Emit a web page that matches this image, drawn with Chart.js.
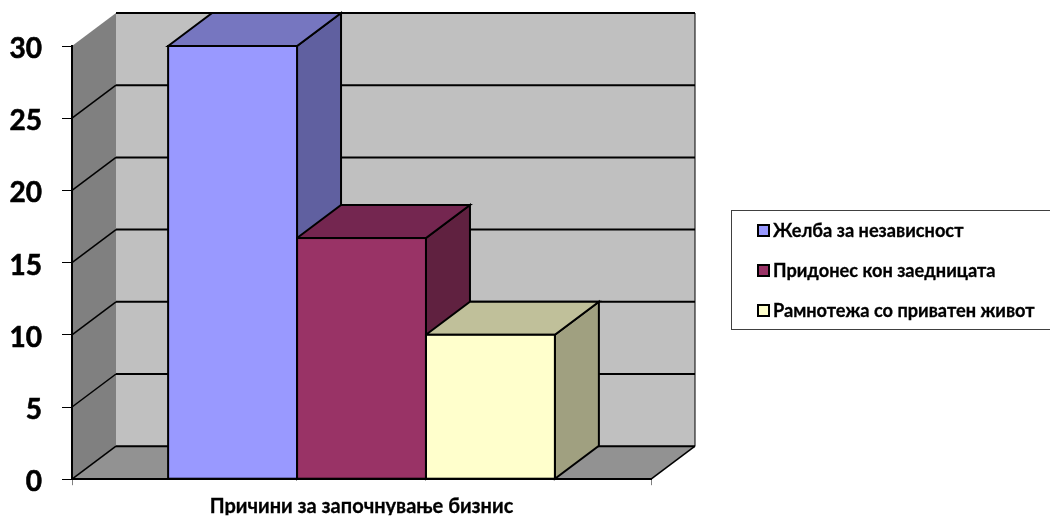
<!DOCTYPE html>
<html>
<head>
<meta charset="utf-8">
<script src="https://cdn.jsdelivr.net/npm/chart.js@4/dist/chart.umd.min.js"></script>
<style>
    body { margin: 0; background: #fff; }
    #wrap { position: relative; width: 1050px; height: 516px; overflow: hidden; }
    #leyenda {
        position: absolute; left: 731px; top: 210px; width: 320px; height: 120px;
        box-sizing: border-box; border: 1px solid #404040;
        font: bold 18.2px Lato, "Open Sans", sans-serif; color: #000;
        -webkit-text-stroke: 0.3px #000;
    }
    #leyenda div { position: absolute; left: 41px; white-space: nowrap; line-height: 22px; }
    #leyenda i { position: absolute; left: -16px; top: 5px; width: 9px; height: 9px; border: 2px solid #000; }
</style>
</head>
<body>
<div id="wrap">
    <canvas id="grafica" width="1050" height="516"></canvas>
    <div id="leyenda"></div>
</div>
<script>
var categorias = ['Причини за започнување бизнис'];
var series = ['Желба за независност', 'Придонес кон заедницата', 'Рамнотежа со приватен живот'];
var valores1 = [30];
var valores2 = [16.7];
var valores3 = [10];
var marcas = [0, 5, 10, 15, 20, 25, 30];

var colores = ['#9999ff', '#993366', '#ffffcc'];
var coloresArriba = ['#7676c0', '#742650', '#c0c09a'];
var coloresLado = ['#6060a0', '#602140', '#a0a080'];

var fondoX = 44;
var fondoY = 33;

function poligono(ctx, puntos, relleno, borde, ancho) {
    ctx.beginPath();
    puntos.forEach(function (p, i) {
        if (i === 0) ctx.moveTo(p[0], p[1]);
        else ctx.lineTo(p[0], p[1]);
    });
    ctx.closePath();
    if (relleno) {
        ctx.fillStyle = relleno;
        ctx.fill();
    }
    if (borde) {
        ctx.strokeStyle = borde;
        ctx.lineWidth = ancho;
        ctx.stroke();
    }
}

function linea(ctx, x1, y1, x2, y2, ancho) {
    ctx.beginPath();
    ctx.moveTo(x1, y1);
    ctx.lineTo(x2, y2);
    ctx.strokeStyle = '#000';
    ctx.lineWidth = ancho;
    ctx.stroke();
}

// paredes y caras 3D alrededor de las barras
var caja3d = {
    id: 'caja3d',
    beforeDraw: function (chart) {
        var ctx = chart.ctx;
        var a = chart.chartArea;
        var y = chart.scales.y;
        ctx.save();
        poligono(ctx, [[a.left, a.bottom], [a.left, a.top], [a.left + fondoX, a.top - fondoY], [a.left + fondoX, a.bottom - fondoY]], '#808080');
        poligono(ctx, [[a.left + fondoX, a.top - fondoY], [a.right + fondoX, a.top - fondoY], [a.right + fondoX, a.bottom - fondoY], [a.left + fondoX, a.bottom - fondoY]], '#c0c0c0');
        poligono(ctx, [[a.left, a.bottom], [a.right, a.bottom], [a.right + fondoX, a.bottom - fondoY], [a.left + fondoX, a.bottom - fondoY]], '#929292');
        linea(ctx, a.right + fondoX, a.top - fondoY, a.right + fondoX, a.bottom - fondoY, 1);
        marcas.forEach(function (m) {
            var py = y.getPixelForValue(m);
            if (m < 30) linea(ctx, a.left, py, a.left + fondoX, py - fondoY, 1.5);
            linea(ctx, a.left + fondoX, py - fondoY, a.right + fondoX, py - fondoY, 2);
        });
        linea(ctx, a.right, a.bottom, a.right + fondoX, a.bottom - fondoY, 1.5);
        ctx.restore();
    },
    beforeDatasetsDraw: function (chart) {
        var ctx = chart.ctx;
        ctx.save();
        series.forEach(function (s, i) {
            var b = chart.getDatasetMeta(i).data[0];
            var izq = b.x - b.width / 2;
            var der = b.x + b.width / 2;
            poligono(ctx, [[der, b.y], [der + fondoX, b.y - fondoY], [der + fondoX, b.base - fondoY], [der, b.base]], coloresLado[i], '#000', 2);
            poligono(ctx, [[izq, b.y], [izq + fondoX, b.y - fondoY], [der + fondoX, b.y - fondoY], [der, b.y]], coloresArriba[i], '#000', 2);
        });
        ctx.restore();
    },
    afterDatasetsDraw: function (chart) {
        var ctx = chart.ctx;
        ctx.save();
        series.forEach(function (s, i) {
            var b = chart.getDatasetMeta(i).data[0];
            ctx.strokeStyle = '#000';
            ctx.lineWidth = 2;
            ctx.strokeRect(b.x - b.width / 2, b.y, b.width, b.base - b.y);
        });
        ctx.restore();
    }
};

var valores = [valores1, valores2, valores3];
var datasets = series.map(function (s, i) {
    return {
        label: s,
        data: valores[i],
        backgroundColor: colores[i],
        borderWidth: 0,
        barPercentage: 1,
        categoryPercentage: 0.668
    };
});

new Chart(document.getElementById('grafica').getContext('2d'), {
    type: 'bar',
    data: { labels: categorias, datasets: datasets },
    plugins: [caja3d],
    options: {
        responsive: false,
        animation: false,
        layout: { padding: { top: 46, right: 399, bottom: 0, left: 0 } },
        plugins: { legend: { display: false }, tooltip: { enabled: false } },
        scales: {
            x: {
                afterFit: function (escala) { escala.height = 36; },
                border: { color: '#000', width: 2 },
                grid: { offset: true, drawOnChartArea: false, tickLength: 6, color: '#808080' },
                ticks: { color: '#000', padding: 9.5, maxRotation: 0, textStrokeColor: '#000', textStrokeWidth: 0.3, font: { family: 'Lato, "Open Sans", sans-serif', weight: 'bold', size: 20 } }
            },
            y: {
                min: 0,
                max: 30,
                afterFit: function (escala) { escala.width = 72; },
                border: { color: '#000', width: 2 },
                grid: { drawOnChartArea: false, tickLength: 10, color: '#000' },
                ticks: { stepSize: 5, color: '#000', padding: 20, labelOffset: 3, textStrokeColor: '#000', textStrokeWidth: 0.6, font: { family: 'Lato, "Open Sans", sans-serif', weight: 'bold', size: 28 } }
            }
        }
    }
});

// leyenda con las mismas series
var leyenda = document.getElementById('leyenda');
series.forEach(function (s, i) {
    var fila = document.createElement('div');
    fila.style.top = (8 + i * 40) + 'px';
    fila.textContent = s;
    var cuadro = document.createElement('i');
    cuadro.style.background = colores[i];
    fila.appendChild(cuadro);
    leyenda.appendChild(fila);
});
</script>
</body>
</html>
